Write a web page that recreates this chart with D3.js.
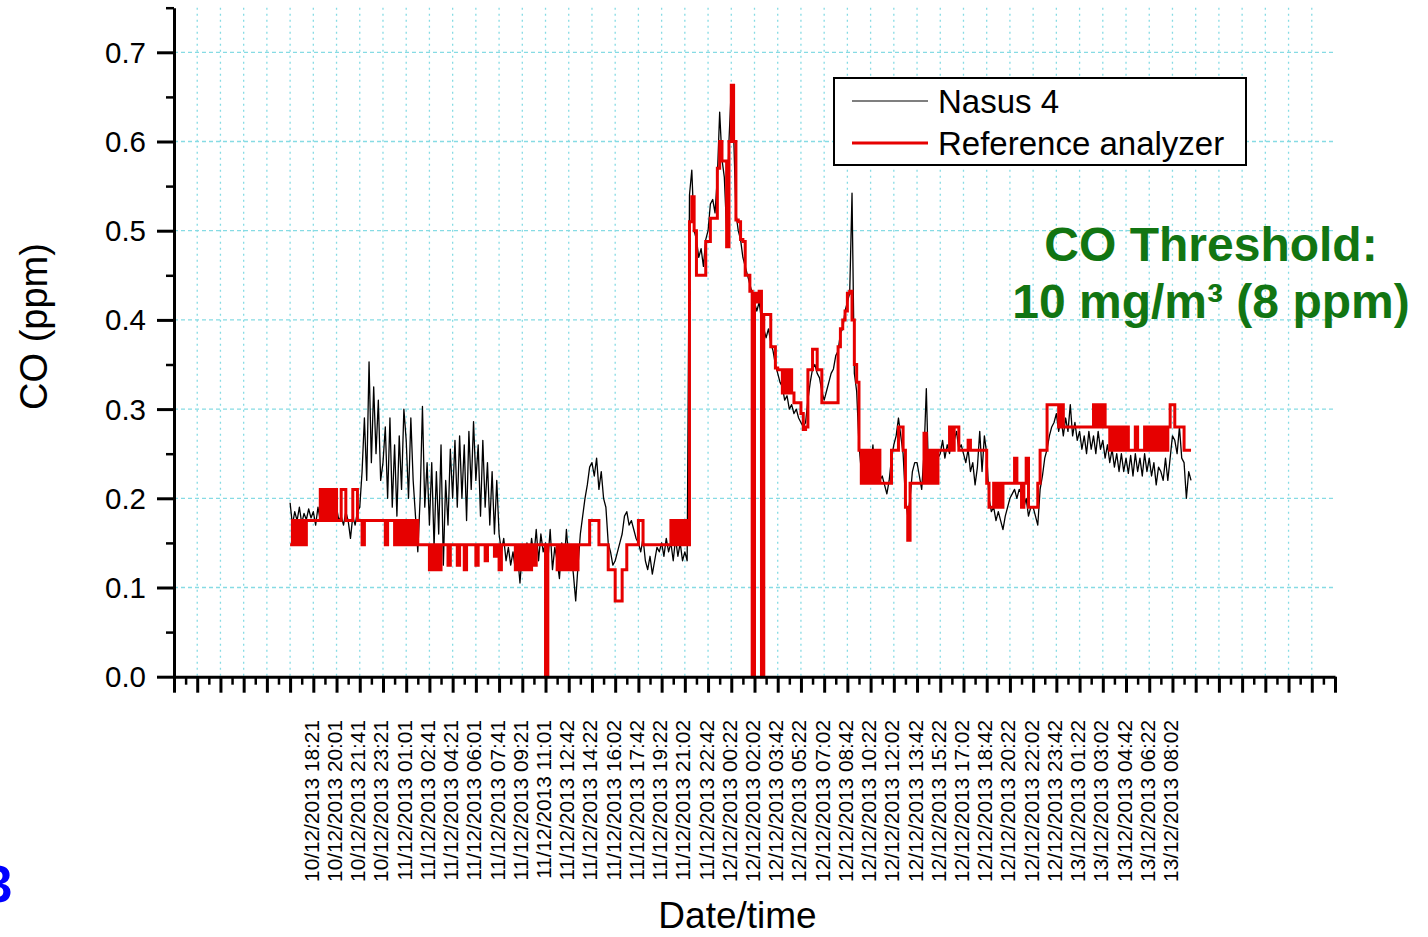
<!DOCTYPE html>
<html><head><meta charset="utf-8">
<script src="https://cdn.jsdelivr.net/npm/d3@7"></script>
<style>
html,body{margin:0;padding:0;background:#fff;}
svg{display:block;font-family:"Liberation Sans",Arial,sans-serif;}
</style></head><body>
<svg id="chart" width="1428" height="937"></svg>
<script>
// ---------------- data ----------------
// x-axis labels, one every 100 minutes starting at 10/12/2013 18:21 (minute 0)
const tickLabels = [
  "10/12/2013 18:21","10/12/2013 20:01","10/12/2013 21:41","10/12/2013 23:21",
  "11/12/2013 01:01","11/12/2013 02:41","11/12/2013 04:21","11/12/2013 06:01",
  "11/12/2013 07:41","11/12/2013 09:21","11/12/2013 11:01","11/12/2013 12:42",
  "11/12/2013 14:22","11/12/2013 16:02","11/12/2013 17:42","11/12/2013 19:22",
  "11/12/2013 21:02","11/12/2013 22:42","12/12/2013 00:22","12/12/2013 02:02",
  "12/12/2013 03:42","12/12/2013 05:22","12/12/2013 07:02","12/12/2013 08:42",
  "12/12/2013 10:22","12/12/2013 12:02","12/12/2013 13:42","12/12/2013 15:22",
  "12/12/2013 17:02","12/12/2013 18:42","12/12/2013 20:22","12/12/2013 22:02",
  "12/12/2013 23:42","13/12/2013 01:22","13/12/2013 03:02","13/12/2013 04:42",
  "13/12/2013 06:22","13/12/2013 08:02"
];
const labelStepMin = 100;          // minutes between labelled ticks
const axisStartMin = -600;         // axis range in minutes relative to first label
const axisEndMin = 4400;
const sampleStartMin = -100;       // first sample time (minutes)
const sampleStepMin = 10;          // sampling interval (minutes)

// Nasus 4 sensor (ppm), one value per 10 min
const nasus4 = [
  0.195,0.17,0.185,0.175,0.19,0.172,0.183,0.176,0.188,0.178,
  0.185,0.17,0.19,0.175,0.2,0.18,0.195,0.175,0.19,0.18,
  0.19,0.175,0.18,0.17,0.185,0.175,0.155,0.18,0.17,0.185,
  0.19,0.23,0.29,0.22,0.353,0.24,0.325,0.25,0.31,0.22,
  0.24,0.28,0.2,0.29,0.19,0.26,0.18,0.27,0.21,0.3,
  0.265,0.2,0.29,0.22,0.18,0.14,0.2,0.303,0.19,0.24,
  0.17,0.24,0.145,0.23,0.16,0.26,0.125,0.22,0.17,0.255,
  0.2,0.265,0.19,0.27,0.2,0.26,0.175,0.275,0.21,0.286,
  0.22,0.26,0.18,0.265,0.19,0.24,0.17,0.23,0.16,0.22,
  0.16,0.14,0.155,0.13,0.145,0.125,0.14,0.12,0.135,0.105,
  0.14,0.12,0.15,0.13,0.155,0.135,0.165,0.13,0.16,0.14,
  0.15,0.13,0.165,0.12,0.145,0.13,0.11,0.15,0.125,0.165,
  0.13,0.14,0.115,0.085,0.125,0.16,0.18,0.2,0.215,0.235,
  0.24,0.225,0.245,0.21,0.23,0.2,0.19,0.15,0.14,0.125,
  0.13,0.14,0.15,0.16,0.18,0.185,0.17,0.175,0.165,0.155,
  0.15,0.14,0.155,0.13,0.12,0.135,0.115,0.13,0.145,0.14,
  0.15,0.135,0.155,0.14,0.15,0.13,0.155,0.135,0.15,0.13,
  0.14,0.13,0.54,0.568,0.5,0.49,0.47,0.48,0.46,0.49,
  0.5,0.53,0.535,0.52,0.56,0.633,0.58,0.56,0.5,0.6,
  0.66,0.61,0.52,0.5,0.49,0.47,0.46,0.45,0.44,0.43,
  0.42,0.41,0.42,0.40,0.39,0.38,0.39,0.375,0.365,0.35,
  0.34,0.33,0.325,0.31,0.315,0.30,0.305,0.295,0.30,0.29,
  0.285,0.28,0.285,0.31,0.33,0.345,0.35,0.34,0.335,0.32,
  0.31,0.32,0.33,0.34,0.345,0.36,0.365,0.385,0.39,0.41,
  0.42,0.43,0.542,0.34,0.32,0.26,0.23,0.22,0.225,0.22,
  0.23,0.26,0.22,0.225,0.22,0.225,0.215,0.205,0.22,0.245,
  0.26,0.27,0.29,0.27,0.25,0.2,0.18,0.2,0.23,0.24,
  0.24,0.225,0.21,0.25,0.323,0.22,0.24,0.23,0.25,0.245,
  0.25,0.265,0.245,0.26,0.25,0.27,0.265,0.275,0.255,0.26,
  0.25,0.24,0.255,0.23,0.24,0.215,0.235,0.275,0.23,0.27,
  0.25,0.2,0.185,0.19,0.175,0.185,0.175,0.165,0.18,0.19,
  0.2,0.205,0.21,0.2,0.21,0.205,0.19,0.2,0.18,0.19,
  0.19,0.18,0.17,0.21,0.225,0.245,0.255,0.27,0.28,0.285,
  0.295,0.275,0.29,0.27,0.29,0.275,0.305,0.27,0.285,0.265,
  0.275,0.255,0.27,0.25,0.275,0.255,0.27,0.25,0.275,0.255,
  0.265,0.245,0.26,0.24,0.255,0.235,0.25,0.23,0.25,0.23,
  0.245,0.228,0.248,0.225,0.25,0.23,0.245,0.225,0.25,0.23,
  0.245,0.225,0.24,0.215,0.235,0.23,0.22,0.245,0.22,0.245,
  0.27,0.265,0.25,0.28,0.245,0.24,0.2,0.23,0.22
];

// Reference analyzer (ppm), one value per 10 min
const reference = [
  0.148,0.175,0.148,0.175,0.148,0.175,0.148,0.175,0.175,0.175,
  0.175,0.175,0.175,0.21,0.175,0.21,0.175,0.21,0.175,0.21,
  0.175,0.175,0.21,0.21,0.175,0.175,0.175,0.21,0.21,0.175,
  0.175,0.148,0.175,0.175,0.175,0.175,0.175,0.175,0.175,0.175,
  0.175,0.148,0.175,0.175,0.175,0.148,0.175,0.148,0.175,0.148,
  0.175,0.148,0.175,0.148,0.175,0.148,0.148,0.148,0.148,0.148,
  0.12,0.148,0.12,0.148,0.12,0.148,0.148,0.148,0.125,0.148,
  0.148,0.148,0.125,0.148,0.148,0.12,0.148,0.148,0.148,0.148,
  0.125,0.148,0.148,0.148,0.13,0.148,0.148,0.148,0.135,0.148,
  0.12,0.148,0.148,0.148,0.148,0.148,0.148,0.12,0.148,0.12,
  0.148,0.12,0.148,0.12,0.148,0.125,0.148,0.148,0.148,0.148,
  0,0.148,0.148,0.148,0.148,0.12,0.148,0.12,0.148,0.12,
  0.148,0.12,0.148,0.12,0.148,0.148,0.148,0.148,0.148,0.175,
  0.175,0.175,0.175,0.148,0.148,0.148,0.148,0.12,0.12,0.12,
  0.085,0.085,0.085,0.12,0.12,0.148,0.148,0.148,0.148,0.148,
  0.175,0.175,0.148,0.148,0.148,0.148,0.148,0.148,0.148,0.148,
  0.148,0.148,0.148,0.148,0.175,0.148,0.175,0.148,0.175,0.148,
  0.175,0.148,0.51,0.538,0.5,0.45,0.45,0.45,0.45,0.488,
  0.488,0.514,0.514,0.514,0.57,0.6,0.578,0.578,0.482,0.6,
  0.663,0.6,0.512,0.51,0.49,0.488,0.45,0.45,0.432,0,
  0.43,0.42,0.432,0,0.406,0.406,0.406,0.37,0.37,0.346,
  0.344,0.344,0.318,0.344,0.318,0.344,0.318,0.307,0.307,0.307,
  0.295,0.277,0.28,0.344,0.344,0.367,0.367,0.344,0.344,0.307,
  0.307,0.307,0.307,0.307,0.307,0.307,0.37,0.39,0.40,0.41,
  0.43,0.432,0.40,0.35,0.33,0.254,0.217,0.254,0.217,0.254,
  0.217,0.254,0.217,0.254,0.217,0.217,0.217,0.217,0.217,0.254,
  0.254,0.254,0.28,0.28,0.254,0.19,0.153,0.217,0.217,0.217,
  0.217,0.217,0.217,0.273,0.217,0.254,0.217,0.254,0.217,0.254,
  0.254,0.254,0.254,0.254,0.28,0.254,0.28,0.28,0.254,0.254,
  0.254,0.254,0.265,0.254,0.254,0.254,0.254,0.254,0.254,0.254,
  0.217,0.19,0.19,0.217,0.19,0.217,0.19,0.217,0.217,0.217,
  0.217,0.217,0.245,0.217,0.217,0.19,0.217,0.245,0.19,0.19,
  0.19,0.19,0.217,0.254,0.254,0.254,0.305,0.305,0.305,0.305,
  0.305,0.28,0.305,0.28,0.28,0.28,0.28,0.28,0.28,0.28,
  0.28,0.28,0.28,0.28,0.28,0.28,0.305,0.28,0.305,0.28,
  0.305,0.28,0.28,0.254,0.28,0.254,0.28,0.254,0.28,0.254,
  0.28,0.254,0.254,0.254,0.28,0.254,0.254,0.254,0.28,0.254,
  0.28,0.254,0.28,0.254,0.28,0.254,0.28,0.254,0.28,0.305,
  0.305,0.28,0.28,0.28,0.28,0.254,0.254,0.254,0.254
];

const yMajorTicks = [0.0,0.1,0.2,0.3,0.4,0.5,0.6,0.7];
const yMinorTicks = [0.05,0.15,0.25,0.35,0.45,0.55,0.65,0.75];
const seriesNames = ["Nasus 4","Reference analyzer"];
const thresholdLines = ["CO Threshold:","10 mg/m\u00B3 (8 ppm)"];

// ---------------- chart ----------------
const svg = d3.select("#chart");
svg.append("rect").attr("width",1428).attr("height",937).attr("fill","#fff");

const x = d3.scaleLinear().domain([axisStartMin, axisEndMin]).range([174, 1335]);
const y = d3.scaleLinear().domain([0, 0.75]).range([676.7, 7.7]);

const xMajor = d3.range(axisStartMin, axisEndMin + 1, labelStepMin);
const xMinor = d3.range(axisStartMin + labelStepMin/2, axisEndMin, labelStepMin);

const gridColor = "#86dbe4";
// grid
const grid = svg.append("g");
grid.selectAll("line.vg").data(xMajor.slice(1, -1)).join("line")
  .attr("x1", d => x(d)).attr("x2", d => x(d))
  .attr("y1", y(0.75)).attr("y2", y(0))
  .attr("stroke", gridColor).attr("stroke-width", 1.3).attr("stroke-dasharray", "2,4");
grid.selectAll("line.hg").data(yMajorTicks.slice(1)).join("line")
  .attr("x1", x(axisStartMin)).attr("x2", x(axisEndMin))
  .attr("y1", d => y(d)).attr("y2", d => y(d))
  .attr("stroke", gridColor).attr("stroke-width", 1.3).attr("stroke-dasharray", "4,3");

// series
const tOf = i => sampleStartMin + i * sampleStepMin;
const blackLine = d3.line().x((d,i) => x(tOf(i))).y(d => y(d));
const redLine = d3.line().x((d,i) => x(tOf(i))).y(d => y(d)).curve(d3.curveStepAfter);

svg.append("path").datum(nasus4).attr("d", blackLine)
  .attr("fill","none").attr("stroke","#000").attr("stroke-width",1.3).attr("stroke-linejoin","round");
svg.append("path").datum(reference).attr("d", redLine)
  .attr("fill","none").attr("stroke","#e60000").attr("stroke-width",3);

// axes
function styleAxis(g, w) {
  g.selectAll("path.domain").attr("stroke","#000").attr("stroke-width",3);
  g.selectAll(".tick line").attr("stroke","#000").attr("stroke-width",w);
}
const xAxisG = svg.append("g").attr("transform", `translate(0,${y(0)})`)
  .call(d3.axisBottom(x).tickValues(xMajor).tickSize(16).tickSizeOuter(0).tickFormat(""));
const xMinorG = svg.append("g").attr("transform", `translate(0,${y(0)})`)
  .call(d3.axisBottom(x).tickValues(xMinor).tickSize(8).tickSizeOuter(0).tickFormat(""));
xMinorG.select("path.domain").remove();
styleAxis(xAxisG, 3); styleAxis(xMinorG, 2.5);

const yAxisG = svg.append("g").attr("transform", `translate(${x(axisStartMin)},0)`)
  .call(d3.axisLeft(y).tickValues(yMajorTicks).tickSize(17).tickPadding(11).tickSizeOuter(0)
        .tickFormat(d3.format(".1f")));
const yMinorG = svg.append("g").attr("transform", `translate(${x(axisStartMin)},0)`)
  .call(d3.axisLeft(y).tickValues(yMinorTicks).tickSize(8).tickSizeOuter(0).tickFormat(""));
yMinorG.select("path.domain").remove();
styleAxis(yAxisG, 3); styleAxis(yMinorG, 2.5);
yAxisG.selectAll(".tick text").attr("font-size","29.5px").attr("fill","#000")
  .attr("font-family","'Liberation Sans',Arial,sans-serif").attr("dy","0.34em");

// rotated x labels
svg.append("g").selectAll("text").data(tickLabels).join("text")
  .attr("transform", (d,i) => `translate(${x(i*labelStepMin) + 5.5},720) rotate(-90)`)
  .attr("text-anchor","end").attr("font-size","20.8px").attr("fill","#000")
  .text(d => d);

// axis titles
svg.append("text").attr("x",737.5).attr("y",928).attr("text-anchor","middle")
  .attr("font-size","37px").attr("fill","#000").text("Date/time");
svg.append("text").attr("transform","translate(47,326.5) rotate(-90)").attr("text-anchor","middle")
  .attr("font-size","38px").attr("fill","#000").text("CO (ppm)");

// legend
const lg = svg.append("g");
lg.append("rect").attr("x",834).attr("y",78).attr("width",412).attr("height",87)
  .attr("fill","#fff").attr("stroke","#000").attr("stroke-width",2);
lg.append("line").attr("x1",852).attr("x2",928).attr("y1",101).attr("y2",101)
  .attr("stroke","#000").attr("stroke-width",1.2);
lg.append("line").attr("x1",852).attr("x2",928).attr("y1",143).attr("y2",143)
  .attr("stroke","#e60000").attr("stroke-width",3);
lg.selectAll("text").data(seriesNames).join("text")
  .attr("x",938).attr("y",(d,i) => 113 + i*42).attr("font-size","33px").attr("fill","#000")
  .text(d => d);

// threshold annotation
svg.append("g").selectAll("text").data(thresholdLines).join("text")
  .attr("x",1211).attr("y",(d,i) => 261 + i*57).attr("text-anchor","middle")
  .attr("font-size","48px").attr("font-weight","bold").attr("fill","#127512")
  .text(d => d);

// cut-off slide number (partly outside the picture, as in the reference)
svg.append("text").attr("x",-16).attr("y",902).attr("font-size","51px")
  .attr("font-weight","bold").attr("fill","#0000ff").text("3");
</script>
</body></html>
